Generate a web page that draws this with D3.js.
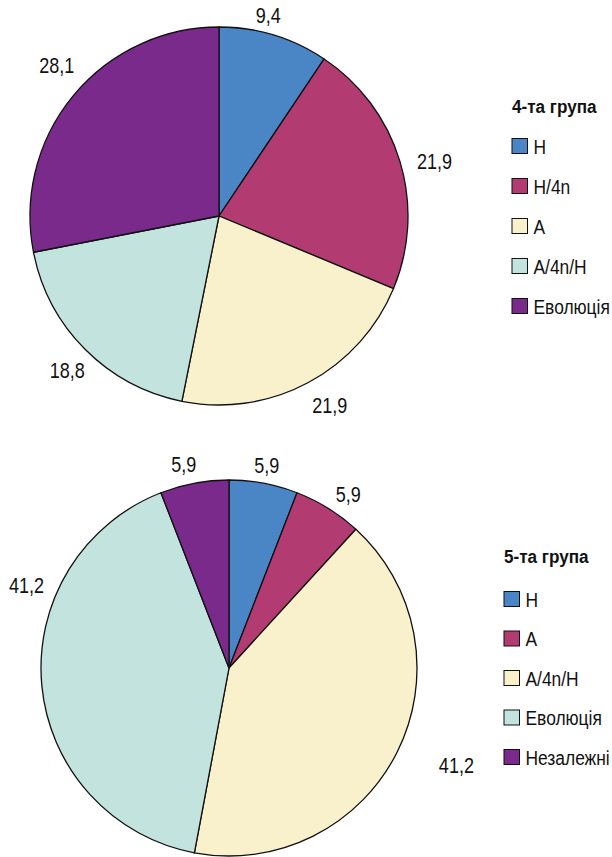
<!DOCTYPE html>
<html>
<head>
<meta charset="utf-8">
<script src="https://cdn.jsdelivr.net/npm/d3@7"></script>
<style>
  html, body { margin: 0; padding: 0; background: #fff; }
  svg text { font-family: "Liberation Sans", Arial, sans-serif; fill: #111; }
</style>
</head>
<body>
<svg id="chart" width="612" height="857"></svg>
<script>
// Group 4 shares (%)
const group4Title = "4-та група";
const group4Categories = ["Н", "Н/4n", "А", "А/4n/Н", "Еволюція"];
const group4Values = [9.4, 21.9, 21.9, 18.8, 28.1];

// Group 5 shares (%)
const group5Title = "5-та група";
const group5Categories = ["Н", "А", "А/4n/Н", "Еволюція", "Незалежні"];
const group5Values = [5.9, 5.9, 41.2, 41.2, 5.9];

const sliceColors = ["#4a86c5", "#b23c72", "#f9f1cc", "#c3e3df", "#7a2a8a"];

const svg = d3.select("#chart");
const fmt = v => String(v).replace(".", ",");

// Condensed-looking text: horizontal squeeze around the anchor point
function squeezed(sel, sx) {
  return sel.attr("transform", function () {
    const x = +this.getAttribute("data-x"), y = +this.getAttribute("data-y");
    return `translate(${x},${y}) scale(${sx},1)`;
  });
}

function drawPie(cfg) {
  const { cx, cy, r, values, categories, title, legendX, legendY, legendFirst, legendStep, labelPos } = cfg;
  const data = values.map((v, i) => ({ v, cat: categories[i], i }));
  const pie = d3.pie().value(d => d.v).sort(null);
  const arcs = pie(data);
  const arc = d3.arc().innerRadius(0).outerRadius(r);
  const g = svg.append("g").attr("transform", `translate(${cx},${cy})`);

  g.selectAll("path.slice").data(arcs).join("path")
    .attr("class", "slice")
    .attr("d", arc)
    .attr("fill", d => sliceColors[d.data.i])
    .attr("stroke", "#111")
    .attr("stroke-width", 1.3)
    .attr("stroke-linejoin", "round");

  const labelAngle = d => (d.startAngle + d.endAngle) / 2 + (labelPos.shift[d.index] || 0) * Math.PI / 180;
  g.selectAll("text.val").data(arcs).join("text")
    .attr("class", "val")
    .attr("data-x", d => Math.sin(labelAngle(d)) * labelPos.r[d.index])
    .attr("data-y", d => -Math.cos(labelAngle(d)) * labelPos.r[d.index] + 6)
    .attr("text-anchor", "middle")
    .attr("font-size", 22)
    .text(d => fmt(d.data.v))
    .call(squeezed, 0.82);

  const lg = svg.append("g").attr("transform", `translate(${legendX},${legendY})`);
  lg.append("text")
    .attr("data-x", 0).attr("data-y", 0)
    .attr("font-size", 19)
    .attr("font-weight", "bold")
    .text(title)
    .call(squeezed, 0.9);
  const rows = lg.selectAll("g.row").data(data).join("g")
    .attr("class", "row")
    .attr("transform", (d, i) => `translate(0,${legendFirst + i * legendStep})`);
  rows.append("rect")
    .attr("x", 0).attr("y", -7.5)
    .attr("width", 15.5).attr("height", 15)
    .attr("fill", d => sliceColors[d.i])
    .attr("stroke", "#111").attr("stroke-width", 1);
  rows.append("text")
    .attr("data-x", 21.5).attr("data-y", 7.5)
    .attr("font-size", 20)
    .text(d => d.cat)
    .call(squeezed, 0.87);
}

drawPie({
  cx: 219, cy: 216, r: 189,
  values: group4Values, categories: group4Categories, title: group4Title,
  legendX: 512, legendY: 113, legendFirst: 33, legendStep: 40,
  labelPos: { r: [205, 222, 221, 218, 220], shift: [-3, 3, -2, -1, 3] }
});

drawPie({
  cx: 229, cy: 668, r: 188,
  values: group5Values, categories: group5Categories, title: group5Title,
  legendX: 504, legendY: 563, legendFirst: 36, legendStep: 39.5,
  labelPos: { r: [205, 209, 248, 218, 207], shift: [0, 3, -3, 27, -2] }
});
</script>
</body>
</html>
